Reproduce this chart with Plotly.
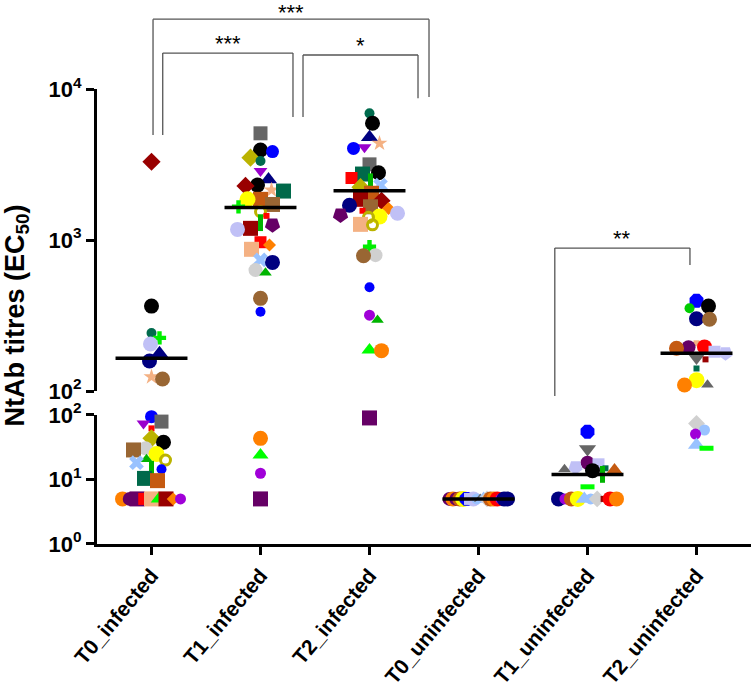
import math
from collections import defaultdict
import plotly.graph_objects as go

# ---------------- data ----------------
categories = ["T0_infected", "T1_infected", "T2_infected",
              "T0_uninfected", "T1_uninfected", "T2_uninfected"]

t0_inf_vals = [3300, 365, 242, 225, 205, 178, 158, 124, 120, 94, 79, 74, 62, 43.5, 37.8, 30.5,
               28.7, 24.8, 20.6, 20, 18.2, 14.4, 14.4, 10.4, 9.6, 5, 5, 5, 5, 5, 5, 5, 5, 5]
t0_inf_ids = ["darkred_dia", "black", "teal_c", "brgreen_cross", "lavender", "navy_tri", "navy_c",
              "peach_star", "brown_c", "blue_key", "gray_sq", "purple_tri", "red_small", "olive_dia",
              "black", "lgray_c", "brown_sq", "yellow", "green_tri", "olive_key", "lblue_x", "green_bar",
              "blue_small", "teal_sq", "orbr_sq", "orange_c", "dpurp_c", "dpurp_sq", "red_sq",
              "peach_sq", "brgreen_tri", "darkred_sq", "orange_dia", "purple_c"]

t1_inf_vals = [5090, 3945, 3850, 3510, 3335, 2865, 2520, 2310, 2280, 2140, 2110, 1860, 1860, 1720,
               1660, 1540, 1445, 1303, 1260, 1195, 1176, 967, 927, 868, 738, 711, 632, 608, 411, 335,
               43.4, 24, 12.5, 5]
t1_inf_ids = ["gray_sq", "black", "blue_key", "olive_dia", "teal_c", "purple_tri", "navy_tri", "black",
              "darkred_dia", "peach_star", "teal_sq", "orbr_sq", "yellow", "brown_sq", "brgreen_cross",
              "olive_key", "red_small", "green_bar", "dpurp_pent", "darkred_sq", "lavender", "red_sq",
              "orange_dia", "peach_sq", "lblue_x", "navy_c", "lgray_c", "green_tri", "brown_c",
              "blue_small", "orange_c", "brgreen_tri", "purple_c", "dpurp_sq"]

t2_inf_vals = [6900, 5930, 4790, 4370, 4110, 4045, 3170, 2790, 2735, 2575, 2430, 2310, 2240, 2040,
               1860, 1820, 1700, 1660, 1620, 1563, 1503, 1465, 1430, 1414, 1270, 1260, 903, 794, 787,
               486, 318, 295, 187, 185, 90]
t2_inf_ids = ["teal_c", "black", "navy_tri", "peach_star", "purple_tri", "blue_key", "gray_sq", "black",
              "teal_sq", "red_sq", "green_bar", "lblue_x", "olive_dia", "orbr_sq", "darkred_sq",
              "darkred_dia", "navy_c", "brown_sq", "orange_dia", "red_small", "lavender", "dpurp_pent",
              "yellow", "olive_key", "peach_sq", "olive_key", "brgreen_cross", "lgray_c", "brown_c",
              "blue_small", "purple_c", "green_tri", "brgreen_tri", "orange_c", "dpurp_sq"]

t0_uninf_vals = [5] * 18
t0_uninf_ids = ["dpurp_c", "orange_c", "dpurp_c", "orbr_c", "yellow", "blue_oct", "lav_sq", "lavender",
                "lblue_c", "gray_tri", "lblue_tri", "lgray_dia", "orbr_c", "orange_c", "red_c",
                "purple_c", "navy_c", "navy_c"]

t1_uninf_vals = [55, 29.7, 18.2, 17.2, 15.5, 14.9, 14.4, 14, 13.7, 12, 7.7,
                 5, 5, 5, 5, 5, 5, 5, 5, 5, 5]
t1_uninf_ids = ["blue_oct", "gray_tridown", "dpurp_c", "lav_sq", "lav_pent", "teal_small", "gray_tri",
                "orbr_tri", "black", "green_bar", "brgreen_bar", "navy_c", "purple_c", "orbr_c", "yellow",
                "lblue_tri", "lblue_c", "lgray_dia", "darkred_small", "red_c", "orange_c"]

t2_uninf_vals = [396, 365, 353, 301, 299, 207, 196, 195, 192, 182, 178, 167, 162, 141, 118, 110, 109.6,
                 74, 58.5, 50.7, 34.3, 30.5]
t2_uninf_ids = ["blue_oct", "black", "brgreen_small", "navy_c", "brown_c", "peach_small", "red_c",
                "dpurp_c", "orbr_c", "lav_sq", "lav_pent", "gray_tridown", "darkred_small", "teal_small",
                "yellow", "gray_tri", "orange_c", "lgray_dia", "lblue_c", "purple_c", "lblue_tri",
                "brgreen_bar"]

medians = [165, 1640, 2120, 5, 12, 178]

# significance comparisons: label, left x, right x, bar height, left leg end, right leg end
comparisons = [
    ("***", 0.014, 2.546, 29000, 4960, 8850),
    ("***", 0.103, 1.298, 17300, 4960, 6530),
    ("*", 1.390, 2.445, 16800, 6530, 8700),
    ("**", 3.700, 4.940, 885, 92.7, 682),
]

groups = [(t0_inf_vals, t0_inf_ids), (t1_inf_vals, t1_inf_ids), (t2_inf_vals, t2_inf_ids),
          (t0_uninf_vals, t0_uninf_ids), (t1_uninf_vals, t1_uninf_ids), (t2_uninf_vals, t2_uninf_ids)]

# ---------------- styles ----------------
STYLES = {
    "black": ("#000000", "circle", 15),
    "gray_sq": ("#666666", "square", 14),
    "blue_key": ("#0000FF", "circle", 13),
    "olive_dia": ("#BBB300", "diamond", 14),
    "teal_c": ("#006B4D", "circle", 10),
    "purple_tri": ("#9900CC", "triangle-down", 12),
    "peach_star": ("#F4B183", "star", 12),
    "teal_sq": ("#00694A", "square", 15),
    "darkred_dia": ("#990000", "diamond", 14),
    "navy_tri": ("#000080", "triangle-up", 15),
    "orbr_sq": ("#C55A11", "square", 15),
    "yellow": ("#FFFF00", "circle", 16),
    "brown_sq": ("#996633", "square", 15),
    "brgreen_cross": ("#00EE00", "cross", 11),
    "olive_key": ("#BBB300", "circle-open", 10),
    "red_small": ("#FF0000", "square", 6),
    "green_bar": ("#00B400", "line-ns", 12),
    "dpurp_pent": ("#660066", "pentagon", 16),
    "darkred_sq": ("#990000", "square", 15),
    "lavender": ("#C0C0F6", "circle", 15),
    "red_sq": ("#FF0000", "square", 12),
    "orange_dia": ("#FF8000", "diamond", 10),
    "peach_sq": ("#F4B183", "square", 15),
    "lblue_x": ("#99C2FF", "x", 13),
    "navy_c": ("#000080", "circle", 15),
    "lgray_c": ("#D0D0D0", "circle", 14),
    "green_tri": ("#00B400", "triangle-up", 11),
    "brown_c": ("#996633", "circle", 15),
    "blue_small": ("#0000FF", "circle", 10),
    "orange_c": ("#FF8000", "circle", 15),
    "brgreen_tri": ("#00FF00", "triangle-up", 14),
    "purple_c": ("#A000D8", "circle", 11),
    "dpurp_sq": ("#660066", "square", 15),
    "dpurp_c": ("#660066", "circle", 14),
    "blue_oct": ("#0000FF", "octagon", 15),
    "gray_tridown": ("#666666", "triangle-down", 15),
    "gray_tri": ("#666666", "triangle-up", 11),
    "lav_sq": ("#C0C0F6", "square", 12),
    "lav_pent": ("#C0C0F6", "pentagon", 15),
    "teal_small": ("#006B4D", "square", 6),
    "orbr_tri": ("#C55A11", "triangle-up", 14),
    "brgreen_bar": ("#00FF00", "line-ew", 10),
    "lblue_tri": ("#99C2FF", "triangle-up", 15),
    "lblue_c": ("#99C2FF", "circle", 11),
    "lgray_dia": ("#D0D0D0", "diamond", 13),
    "darkred_small": ("#990000", "square", 6),
    "red_c": ("#FF0000", "circle", 15),
    "orbr_c": ("#C55A11", "circle", 15),
    "peach_small": ("#F4B183", "square", 6),
    "brgreen_small": ("#00CC00", "circle", 10),
}

# ---------------- geometry ----------------
FIG_W, FIG_H = 751, 690
M_L, M_R, M_T, M_B = 97, 0, 10, 146
PLOT_W = FIG_W - M_L - M_R
PLOT_H = FIG_H - M_T - M_B
LOW_DOM = [0.0, 0.2416]
UP_DOM = [0.2865, 0.852]
LOW_RANGE = [0, 2]
UP_RANGE = [2, 4]
BREAK = 100
X_RANGE = [-0.5, 5.5]
PX_PER_UNIT = PLOT_W / (X_RANGE[1] - X_RANGE[0])
FONT = "Liberation Sans"


def to_paper(v):
    lv = math.log10(v)
    if v < BREAK:
        return LOW_DOM[0] + (lv - LOW_RANGE[0]) / (LOW_RANGE[1] - LOW_RANGE[0]) * (LOW_DOM[1] - LOW_DOM[0])
    return UP_DOM[0] + (lv - UP_RANGE[0]) / (UP_RANGE[1] - UP_RANGE[0]) * (UP_DOM[1] - UP_DOM[0])


def up_paper(v):
    lv = math.log10(v)
    return UP_DOM[0] + (lv - UP_RANGE[0]) / (UP_RANGE[1] - UP_RANGE[0]) * (UP_DOM[1] - UP_DOM[0])


def swarm(vals, sizes, half_w=29, overlap=0.82):
    n = len(vals)
    ys = [to_paper(v) * PLOT_H for v in vals]
    offs = [None] * n
    ties = defaultdict(list)
    for i, v in enumerate(vals):
        ties[v].append(i)
    placed = []
    for v, idx in ties.items():
        k = len(idx)
        if k >= 3:
            s = min(0.5 * max(sizes[i] for i in idx), 2 * half_w / (k - 1))
            for j, i in enumerate(idx):
                offs[i] = (j - (k - 1) / 2) * s
                placed.append(i)
    order = sorted([i for i in range(n) if offs[i] is None], key=lambda i: -vals[i])
    for i in order:
        best, fb, fbscore = None, 0, -1e9
        for step in range(0, half_w + 1):
            for dx in ((0,) if step == 0 else (step, -step)):
                mind = 1e9
                for j in placed:
                    d = math.hypot(dx - offs[j], ys[i] - ys[j]) - overlap * (sizes[i] + sizes[j]) / 2
                    mind = min(mind, d)
                if mind >= 0:
                    best = dx
                    break
                if mind > fbscore:
                    fbscore, fb = mind, dx
            if best is not None:
                break
        offs[i] = best if best is not None else fb
        placed.append(i)
    return [o / PX_PER_UNIT for o in offs]


fig = go.Figure()

for gi, (vals, ids) in enumerate(groups):
    sizes = [STYLES[k][2] for k in ids]
    offs = swarm(vals, sizes)
    for seg, yref in (("low", "y"), ("up", "y2")):
        sel = [i for i, v in enumerate(vals) if (v < BREAK) == (seg == "low")]
        if not sel:
            continue
        cols = [STYLES[ids[i]][0] for i in sel]
        syms = [STYLES[ids[i]][1] for i in sel]
        szs = [STYLES[ids[i]][2] for i in sel]
        lws = [5 if s.startswith("line") else (3 if s.endswith("open") else 0) for s in syms]
        angs = [180 if s == "pentagon" else 0 for s in syms]
        fig.add_trace(go.Scatter(
            x=[gi + offs[i] for i in sel], y=[vals[i] for i in sel],
            yaxis=yref, mode="markers", cliponaxis=False, showlegend=False,
            marker=dict(color=cols, symbol=syms, size=szs, angle=angs, opacity=1,
                        line=dict(color=cols, width=lws)),
            hoverinfo="skip"))

# medians
MED_HALF = 0.33
for gi, m in enumerate(medians):
    fig.add_trace(go.Scatter(
        x=[gi - MED_HALF, gi + MED_HALF], y=[m, m], yaxis="y" if m < BREAK else "y2",
        mode="lines", line=dict(color="black", width=3.5), showlegend=False,
        cliponaxis=False, hoverinfo="skip"))

# brackets
shapes = []
annotations = []
top_most = max(c[3] for c in comparisons)
for label, xl, xr, top, ll, rl in comparisons:
    yt = up_paper(top)
    for x0, y0, x1, y1 in ((xl, up_paper(ll), xl, yt), (xl, yt, xr, yt), (xr, yt, xr, up_paper(rl))):
        shapes.append(dict(type="line", xref="x", yref="paper", x0=x0, y0=y0, x1=x1, y1=y1,
                           line=dict(color="#555555", width=1.3)))
    annotations.append(dict(x=(xl + xr) / 2, y=yt, xref="x", yref="paper", text=label,
                            showarrow=False, xanchor="center", yanchor="bottom",
                            yshift=-8 if top == top_most else -5,
                            font=dict(family=FONT, size=22, color="black")))

annotations.append(dict(x=-0.123, y=0.427, xref="paper", yref="paper",
                        text="NtAb titres (EC<sub>50</sub>)", textangle=-90, showarrow=False,
                        xanchor="center", yanchor="middle",
                        font=dict(family=FONT, size=27, color="black", weight="bold")))

axis_common = dict(showline=True, linewidth=3, linecolor="black", ticks="outside", ticklen=8,
                   tickwidth=3, tickcolor="black", showgrid=False, zeroline=False, automargin=False)
ytickfont = dict(family=FONT, size=22, color="black", weight="bold")

fig.update_layout(
    width=FIG_W, height=FIG_H,
    margin=dict(l=M_L, r=M_R, t=M_T, b=M_B, autoexpand=False),
    paper_bgcolor="white", plot_bgcolor="white",
    xaxis=dict(range=X_RANGE, tickvals=list(range(len(categories))), ticktext=categories,
               tickangle=-50, anchor="y", **axis_common,
               tickfont=dict(family=FONT, size=21, color="black", weight="bold")),
    yaxis=dict(type="log", range=LOW_RANGE, domain=LOW_DOM, anchor="x",
               tickvals=[1, 10, 100], ticktext=["10<sup>0</sup>", "10<sup>1</sup>", "10<sup>2</sup>"],
               tickfont=ytickfont, **axis_common),
    yaxis2=dict(type="log", range=UP_RANGE, domain=UP_DOM, anchor="x",
                tickvals=[100, 1000, 10000], ticktext=["10<sup>2</sup>", "10<sup>3</sup>", "10<sup>4</sup>"],
                tickfont=ytickfont, **axis_common),
    shapes=shapes, annotations=annotations,
)

# remove the browser's default page margin so the figure sits at the window's top-left corner
fig.write_html("out.html", config={"displayModeBar": False},
               post_script="document.body.style.margin='0px';"
                           "document.body.style.overflow='hidden';")
